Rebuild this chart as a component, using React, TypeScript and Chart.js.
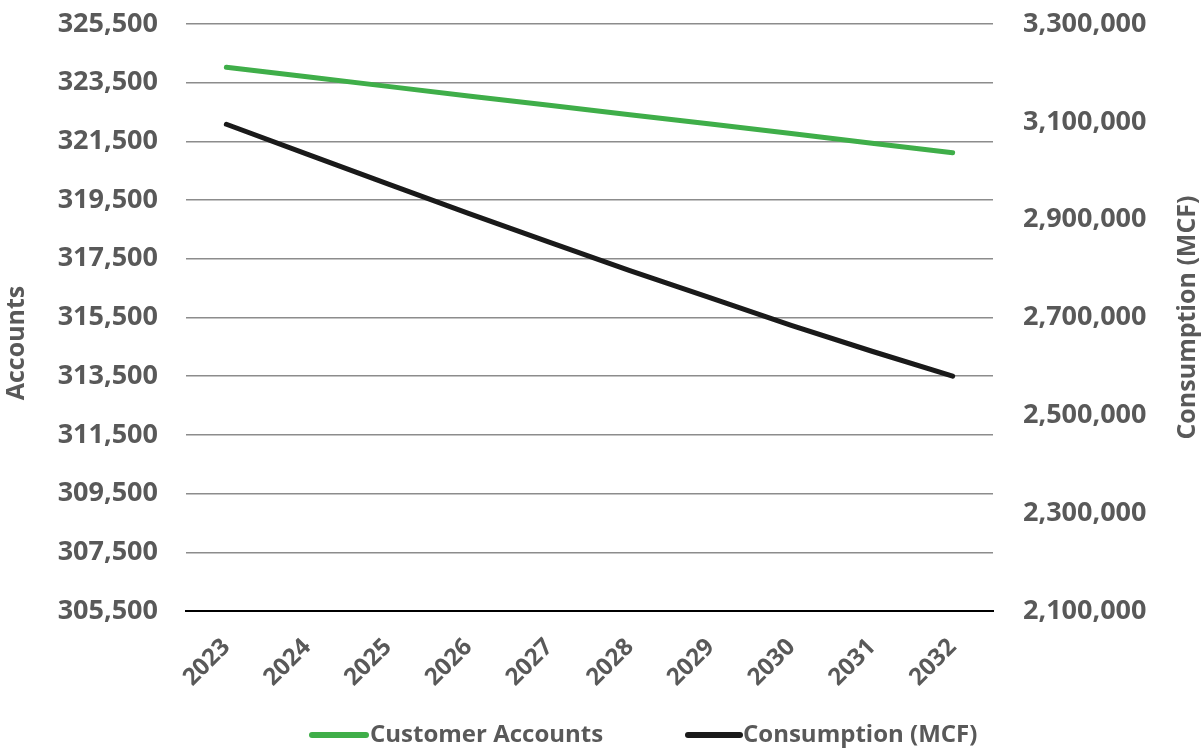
import React, { useEffect, useRef } from "react";
import { Chart, registerables } from "chart.js";

Chart.register(...registerables);

const years = ["2023", "2024", "2025", "2026", "2027", "2028", "2029", "2030", "2031", "2032"];
const customerAccounts = [324025, 323700, 323375, 323050, 322730, 322410, 322090, 321770, 321440, 321115];
const consumptionMcf = [3095000, 3034000, 2973000, 2913000, 2854000, 2796000, 2740000, 2684000, 2631000, 2580000];

const accountsTicks = { min: 305500, max: 325500, step: 2000 };
const consumptionTicks = { min: 2100000, max: 3300000, step: 200000 };

const seriesNames = ["Customer Accounts", "Consumption (MCF)"];
const seriesColors = ["#3fae49", "#1a1a1a"];
const axisTitles = ["Accounts", "Consumption (MCF)"];

const FONT = "'Open Sans', sans-serif";
const TEXT = "#595959";

const overlayPlugin = {
  id: "overlay",
  afterDraw(chart: any) {
    const ctx = chart.ctx as CanvasRenderingContext2D;
    const area = chart.chartArea;
    ctx.save();
    ctx.fillStyle = TEXT;
    ctx.font = `bold 25px ${FONT}`;
    ctx.textAlign = "center";
    ctx.textBaseline = "middle";
    // left axis title
    ctx.save();
    ctx.translate(17, 343);
    ctx.rotate(-Math.PI / 2);
    ctx.fillText(axisTitles[0], 0, 0);
    ctx.restore();
    // right axis title
    ctx.save();
    ctx.translate(1188, (area.top + area.bottom) / 2);
    ctx.rotate(-Math.PI / 2);
    ctx.fillText(axisTitles[1], 0, 0);
    ctx.restore();

    // legend
    const ly = 735;
    const items = [
      { x0: 312, x1: 366, tx: 370 },
      { x0: 688, x1: 740, tx: 743 },
    ];
    ctx.font = `bold 24px ${FONT}`;
    ctx.textAlign = "left";
    items.forEach((it, i) => {
      ctx.strokeStyle = seriesColors[i];
      ctx.lineWidth = 6;
      ctx.lineCap = "round";
      ctx.beginPath();
      ctx.moveTo(it.x0, ly);
      ctx.lineTo(it.x1, ly);
      ctx.stroke();
      ctx.fillStyle = TEXT;
      ctx.fillText(seriesNames[i], it.tx, ly);
    });
    ctx.restore();
  },
};

export default function App() {
  const ref = useRef<HTMLCanvasElement | null>(null);

  useEffect(() => {
    if (!ref.current) return;
    const fmt = (v: any) => Number(v).toLocaleString("en-US");
    const chart = new Chart(ref.current, {
      type: "line",
      data: {
        labels: years,
        datasets: [
          {
            label: seriesNames[0],
            data: customerAccounts,
            borderColor: seriesColors[0],
            backgroundColor: seriesColors[0],
            borderWidth: 5,
            borderCapStyle: "round",
            pointRadius: 0,
            yAxisID: "y",
            tension: 0,
          },
          {
            label: seriesNames[1],
            data: consumptionMcf,
            borderColor: seriesColors[1],
            backgroundColor: seriesColors[1],
            borderWidth: 5,
            borderCapStyle: "round",
            pointRadius: 0,
            yAxisID: "y1",
            tension: 0,
          },
        ],
      },
      options: {
        animation: false,
        responsive: true,
        maintainAspectRatio: false,
        layout: { padding: { top: 24, left: 0, right: 0, bottom: 0 } },
        plugins: {
          legend: { display: false },
          tooltip: { enabled: false },
        },
        scales: {
          x: {
            type: "category",
            offset: true,
            grid: { display: false, drawTicks: true, tickLength: 22, tickColor: "rgba(0,0,0,0)" },
            border: { display: true, color: "#000000", width: 2 },
            ticks: {
              color: TEXT,
              font: { family: FONT, size: 24, weight: "bold" },
              minRotation: 45,
              maxRotation: 45,
              padding: 0,
              autoSkip: false,
            },
            afterFit: (s: any) => {
              s.height = 140;
            },
          },
          y: {
            type: "linear",
            position: "left",
            min: accountsTicks.min,
            max: accountsTicks.max,
            ticks: {
              stepSize: accountsTicks.step,
              color: TEXT,
              font: { family: FONT, size: 27, weight: "bold" },
              padding: 0,
              callback: fmt,
            },
            grid: {
              drawTicks: true,
              tickLength: 28,
              tickColor: "rgba(0,0,0,0)",
              color: (c: any) => (c.index === 0 ? "rgba(0,0,0,0)" : "#8c8c8c"),
              lineWidth: 1.5,
            },
            border: { display: false },
            afterFit: (s: any) => {
              s.width = 186;
            },
          },
          y1: {
            type: "linear",
            position: "right",
            min: consumptionTicks.min,
            max: consumptionTicks.max,
            ticks: {
              stepSize: consumptionTicks.step,
              color: TEXT,
              font: { family: FONT, size: 27, weight: "bold" },
              padding: 0,
              callback: fmt,
            },
            grid: { display: false, drawTicks: true, tickLength: 30, tickColor: "rgba(0,0,0,0)" },
            border: { display: false },
            afterFit: (s: any) => {
              s.width = 211;
            },
          },
        },
      },
      plugins: [overlayPlugin],
    });
    return () => chart.destroy();
  }, []);

  return (
    <div style={{ position: "absolute", left: 0, top: 0, width: 1204, height: 751, background: "#ffffff" }}>
      <canvas ref={ref} />
    </div>
  );
}
